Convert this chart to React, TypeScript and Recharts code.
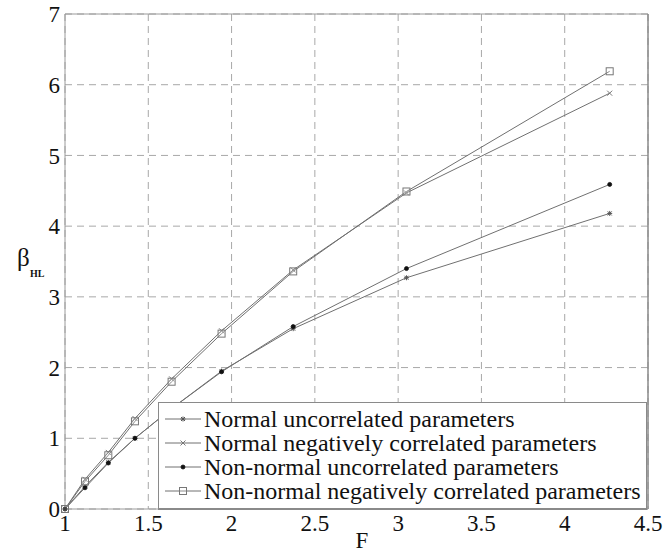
import { LineChart, Line, XAxis, YAxis, CartesianGrid, Legend, ReferenceLine, Label } from 'recharts';

// F values and beta_HL for each case
const fValues = [1, 1.12, 1.26, 1.42, 1.64, 1.94, 2.37, 3.05, 4.27];
const normalUncorrelated = [0, 0.32, 0.66, 1.0, 1.42, 1.95, 2.55, 3.27, 4.18];
const normalNegCorrelated = [0, 0.42, 0.8, 1.28, 1.84, 2.52, 3.38, 4.47, 5.88];
const nonNormalUncorrelated = [0, 0.3, 0.65, 1.0, 1.42, 1.94, 2.58, 3.4, 4.59];
const nonNormalNegCorrelated = [0, 0.39, 0.76, 1.24, 1.8, 2.48, 3.36, 4.49, 6.19];

const xTicks = [1, 1.5, 2, 2.5, 3, 3.5, 4, 4.5];
const yTicks = [0, 1, 2, 3, 4, 5, 6, 7];

const data = fValues.map((f, i) => ({
  f,
  nu: normalUncorrelated[i],
  nn: normalNegCorrelated[i],
  xu: nonNormalUncorrelated[i],
  xn: nonNormalNegCorrelated[i],
}));

const FONT = '"Liberation Serif", "DejaVu Serif", serif';
const LINE = '#707070';

type Kind = 'star' | 'cross' | 'dot' | 'square';

function Marker({ kind, cx, cy }: { kind: Kind; cx: number; cy: number }) {
  if (kind === 'star') {
    return (
      <g stroke="#555" strokeWidth={1}>
        <line x1={cx - 2.5} y1={cy} x2={cx + 2.5} y2={cy} />
        <line x1={cx} y1={cy - 2.5} x2={cx} y2={cy + 2.5} />
        <line x1={cx - 2} y1={cy - 2} x2={cx + 2} y2={cy + 2} />
        <line x1={cx - 2} y1={cy + 2} x2={cx + 2} y2={cy - 2} />
      </g>
    );
  }
  if (kind === 'cross') {
    return (
      <g stroke="#777" strokeWidth={1}>
        <line x1={cx - 2.5} y1={cy - 2.5} x2={cx + 2.5} y2={cy + 2.5} />
        <line x1={cx - 2.5} y1={cy + 2.5} x2={cx + 2.5} y2={cy - 2.5} />
      </g>
    );
  }
  if (kind === 'dot') {
    return <circle cx={cx} cy={cy} r={2} fill="#111" stroke="#111" strokeWidth={0.8} />;
  }
  return <rect x={cx - 3.5} y={cy - 3.5} width={7} height={7} fill="white" fillOpacity={0.2} stroke="#777" strokeWidth={1} />;
}

const dotOf = (kind: Kind) => (p: any) => (
  <g key={`${kind}-${p.index}`}>
    <Marker kind={kind} cx={p.cx} cy={p.cy} />
  </g>
);

const series: { key: string; name: string; kind: Kind }[] = [
  { key: 'nu', name: 'Normal uncorrelated parameters', kind: 'star' },
  { key: 'nn', name: 'Normal negatively correlated parameters', kind: 'cross' },
  { key: 'xu', name: 'Non-normal uncorrelated parameters', kind: 'dot' },
  { key: 'xn', name: 'Non-normal negatively correlated parameters', kind: 'square' },
];

function LegendBox() {
  return (
    <div
      style={{
        background: 'white',
        border: '1px solid #8a8a8a',
        borderBottom: '2px solid #8a8a8a',
        boxSizing: 'border-box',
        width: 489,
        height: 108,
        padding: '4px 0 0 4px',
        fontFamily: FONT,
        fontSize: 24,
        color: '#111',
      }}
    >
      {series.map((s) => (
        <div key={s.key} style={{ display: 'flex', alignItems: 'center', height: 24 }}>
          <svg width={40} height={20} style={{ flex: 'none' }}>
            <line x1={2} y1={10} x2={38} y2={10} stroke={LINE} strokeWidth={1} />
            <Marker kind={s.kind} cx={20} cy={10} />
          </svg>
          <span style={{ whiteSpace: 'nowrap', marginLeft: 1, lineHeight: '24px' }}>{s.name}</span>
        </div>
      ))}
    </div>
  );
}

function YLabel(props: any) {
  const vb = props.viewBox;
  const y = vb.y + vb.height / 2;
  return (
    <text x={17} y={y + 4} fontFamily={FONT} fontSize={25} fill="#111">
      β
      <tspan x={30} y={y + 15} fontSize={10} fontWeight="bold">
        HL
      </tspan>
    </text>
  );
}

function XLabel() {
  return (
    <text x={362} y={548} textAnchor="middle" fontFamily={FONT} fontSize={23} fill="#111">
      F
    </text>
  );
}

export default function App() {
  return (
    <div style={{ position: 'absolute', left: 0, top: 0, width: 665, height: 552, background: 'white' }}>
      <LineChart width={665} height={552} data={data} margin={{ top: 14, right: 17, left: 0, bottom: 0 }}>
        <CartesianGrid stroke="#a8a8a8" strokeDasharray="7 5" />
        <XAxis
          dataKey="f"
          type="number"
          domain={[1, 4.5]}
          ticks={xTicks}
          height={43}
          tickLine={false}
          tickSize={0}
          tickMargin={6}
          stroke="#9a9a9a"
          tick={{ fill: '#111', fontFamily: FONT, fontSize: 23 }}
        >
          <Label content={<XLabel />} />
        </XAxis>
        <YAxis
          type="number"
          domain={[0, 7]}
          ticks={yTicks}
          width={65}
          tickLine={false}
          tickSize={0}
          tickMargin={5}
          stroke="#9a9a9a"
          tick={{ fill: '#111', fontFamily: FONT, fontSize: 23 }}
        >
          <Label content={<YLabel />} />
        </YAxis>
        <ReferenceLine y={7} stroke="#9a9a9a" />
        <ReferenceLine x={4.5} stroke="#8a8a8a" strokeWidth={1.5} />
        {series.map((s) => (
          <Line
            key={s.key}
            dataKey={s.key}
            name={s.name}
            type="linear"
            stroke={LINE}
            strokeWidth={1}
            dot={dotOf(s.kind)}
            activeDot={false}
            isAnimationActive={false}
          />
        ))}
        <Legend
          layout="vertical"
          align="center"
          verticalAlign="middle"
          content={() => <LegendBox />}
          wrapperStyle={{ left: 158, top: 402, width: 489, height: 108 }}
        />
      </LineChart>
    </div>
  );
}
